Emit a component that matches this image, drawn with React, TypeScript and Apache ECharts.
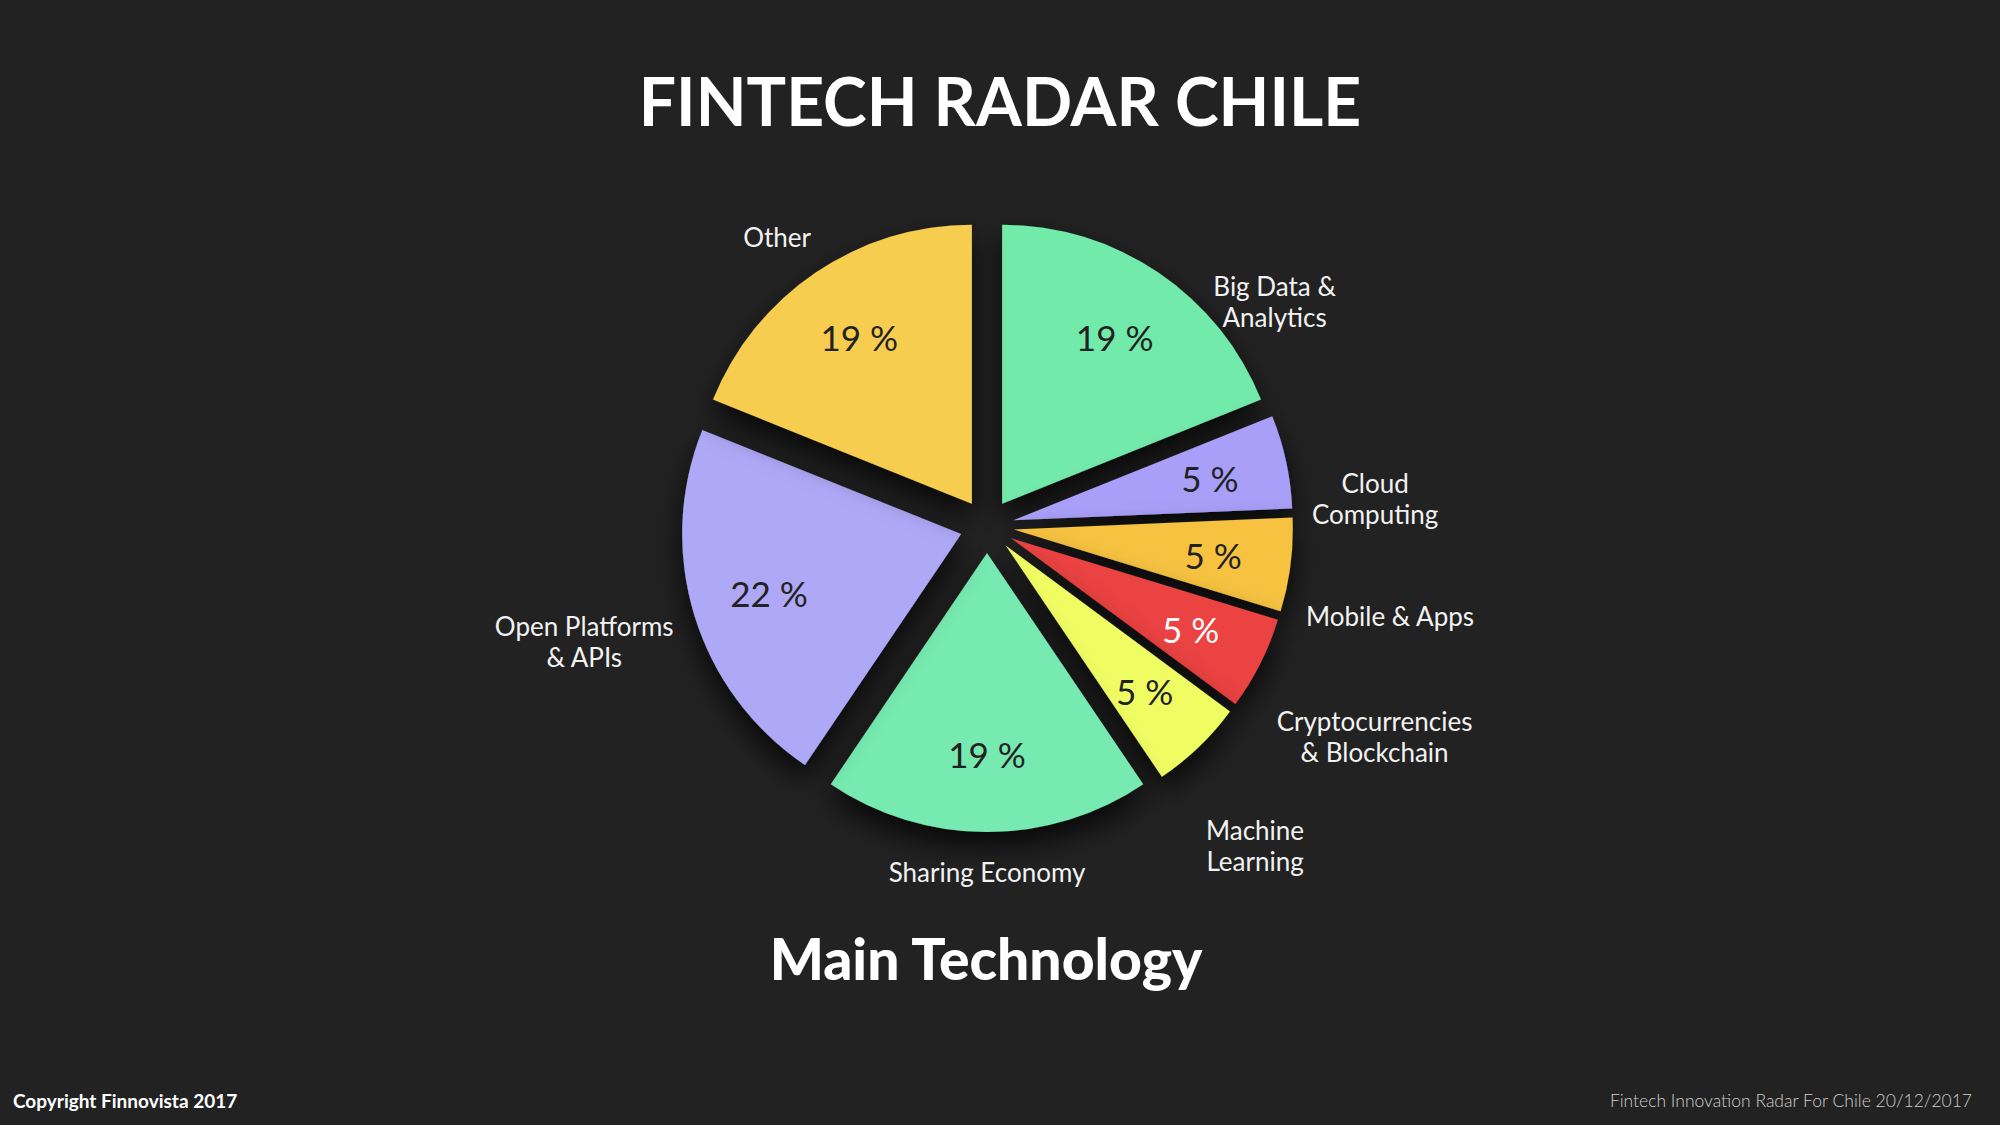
import React, { useEffect, useRef } from "react";
import * as echarts from "echarts";

const categories = [
  "Big Data &\nAnalytics",
  "Cloud\nComputing",
  "Mobile & Apps",
  "Cryptocurrencies\n& Blockchain",
  "Machine\nLearning",
  "Sharing Economy",
  "Open Platforms\n& APIs",
  "Other",
];
// counts behind the percentages (7/37 ≈ 19 %, 2/37 ≈ 5 %, 8/37 ≈ 22 %)
const values = [7, 2, 2, 2, 2, 7, 8, 7];
const colors = ["#72eaaa", "#a99ff8", "#f6c240", "#eb4242", "#effc62", "#76eab0", "#afa8f7", "#f6cd50"];
const pctColors = ["#222222", "#222222", "#222222", "#ffffff", "#222222", "#222222", "#222222", "#222222"];

const CX = 987;
const CY = 526;
const R = 279;
// label placement around the pie: [angle clockwise from top (deg), distance from centre]
const labelPolar: [number, number][] = [
  [52, 365],
  [86, 389],
  [102.6, 413],
  [118.5, 441],
  [140, 417],
  [180, 346],
  [254, 419],
  [324, 357],
];

const FONT = "Lato, 'Open Sans', sans-serif";

export default function App() {
  const ref = useRef<HTMLDivElement>(null);
  useEffect(() => {
    if (!ref.current) return;
    const chart = echarts.init(ref.current, undefined, { renderer: "svg" });
    const total = values.reduce((a, b) => a + b, 0);
    chart.setOption({
      animation: false,
      backgroundColor: "#222222",
      graphic: [
        {
          type: "text",
          style: {
            text: "FINTECH RADAR CHILE",
            x: 1000,
            y: 100,
            textAlign: "center",
            textVerticalAlign: "middle",
            fill: "#ffffff",
            font: `bold 66px ${FONT}`,
          },
        },
        {
          type: "text",
          style: {
            text: "Main Technology",
            x: 986,
            y: 958,
            textAlign: "center",
            textVerticalAlign: "middle",
            fill: "#ffffff",
            font: `900 57px ${FONT}`,
          },
        },
        {
          type: "text",
          style: {
            text: "Copyright Finnovista 2017",
            x: 13,
            y: 1100,
            textAlign: "left",
            textVerticalAlign: "middle",
            fill: "#ffffff",
            font: `bold 19px ${FONT}`,
          },
        },
        {
          type: "text",
          style: {
            text: "Fintech Innovation Radar For Chile 20/12/2017",
            x: 1972,
            y: 1100,
            textAlign: "right",
            textVerticalAlign: "middle",
            fill: "#cfcfcf",
            font: `300 17.5px ${FONT}`,
          },
        },
      ],
      series: [
        {
          type: "pie",
          center: [CX, CY],
          radius: [0, R],
          startAngle: 90,
          clockwise: true,
          selectedMode: "multiple",
          selectedOffset: 27,
          silent: true,
          emphasis: { disabled: true },
          label: { show: false },
          labelLine: { show: false },
          itemStyle: {
            shadowBlur: 30,
            shadowOffsetY: 14,
            shadowColor: "rgba(0,0,0,0.8)",
          },
          data: categories.map((c, i) => ({
            name: c,
            value: values[i],
            selected: true,
            itemStyle: { color: colors[i] },
          })),
        },
        {
          type: "pie",
          center: [CX, CY],
          radius: [171, R],
          startAngle: 90,
          clockwise: true,
          silent: true,
          emphasis: { disabled: true },
          itemStyle: { color: "rgba(0,0,0,0)" },
          labelLine: { show: false },
          label: {
            show: true,
            position: "inside",
            fontFamily: FONT,
            fontSize: 35,
            formatter: (p: any) => `${Math.round((p.value / total) * 100)} %`,
          },
          data: categories.map((c, i) => ({
            name: c,
            value: values[i],
            label: { color: pctColors[i] },
          })),
        },
        {
          type: "pie",
          center: [CX, CY],
          radius: [0, R],
          startAngle: 90,
          clockwise: true,
          silent: true,
          emphasis: { disabled: true },
          itemStyle: { color: "rgba(0,0,0,0)" },
          labelLine: { show: false },
          label: {
            show: true,
            position: "inside",
            fontFamily: FONT,
            fontSize: 26,
            lineHeight: 31,
            color: "#f2f2f2",
            align: "center",
            formatter: (p: any) => p.name,
          },
          labelLayout: (p: any) => {
            const [a, d] = labelPolar[p.dataIndex];
            const rad = (a * Math.PI) / 180;
            return {
              x: CX + d * Math.sin(rad),
              y: CY - d * Math.cos(rad),
              align: "center",
              verticalAlign: "middle",
            };
          },
          data: categories.map((c, i) => ({ name: c, value: values[i] })),
        },
      ],
    });
    return () => chart.dispose();
  }, []);
  return (
    <div
      ref={ref}
      style={{ position: "fixed", left: 0, top: 0, width: 2000, height: 1125 }}
    />
  );
}
